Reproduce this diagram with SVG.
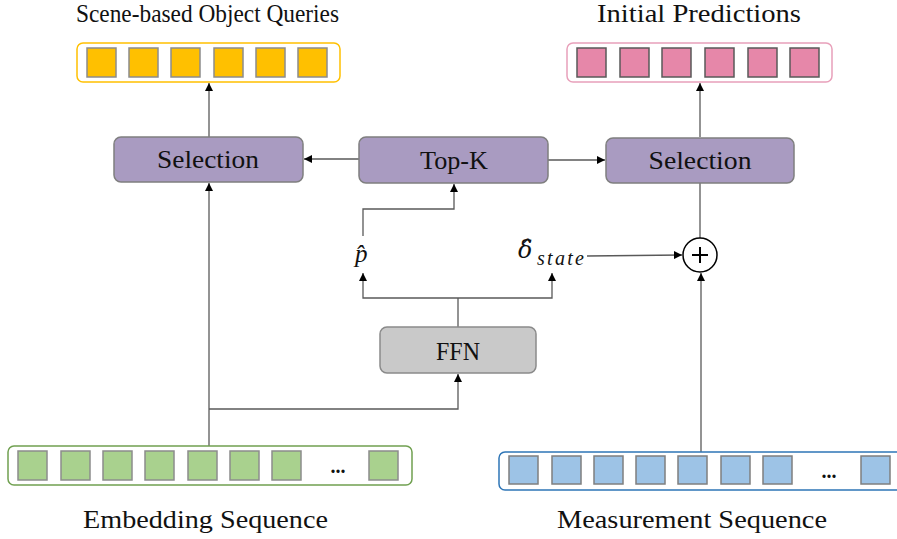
<svg xmlns="http://www.w3.org/2000/svg" width="897" height="539" viewBox="0 0 897 539">
  <defs>
    <marker id="arr" viewBox="0 0 10 10" refX="10" refY="5" markerWidth="8" markerHeight="8" markerUnits="userSpaceOnUse" orient="auto">
      <path d="M0,0 L10,5 L0,10 Z" fill="#000"/>
    </marker>
  </defs>
  <style>
    text { font-family: "Liberation Serif", "DejaVu Serif", serif; fill: #111; }
    .title { font-size: 25px; }
    .lbl { font-size: 26px; text-anchor: middle; }
    .math { font-style: italic; }
    .box { fill: #A99BC1; stroke: #7F7F7F; stroke-width: 1.5; }
    .ffn { fill: #C9C9C9; stroke: #8A8A8A; stroke-width: 1.5; }
    .conn { fill: none; stroke: #595959; stroke-width: 1.3; }
    .ya { fill: #FFC000; stroke: #8C8C8C; stroke-width: 1.5; }
    .pk { fill: #E687A9; stroke: #595959; stroke-width: 1.5; }
    .gr { fill: #A9D18E; stroke: #8C8C8C; stroke-width: 1.5; }
    .bl { fill: #9DC3E6; stroke: #7F7F7F; stroke-width: 1.5; }
  </style>

  <!-- connectors -->
  <g id="connectors">
    <line class="conn" x1="209" y1="137" x2="209" y2="83" marker-end="url(#arr)"/>
    <line class="conn" x1="700" y1="137" x2="700" y2="83" marker-end="url(#arr)"/>
    <line class="conn" x1="359" y1="159" x2="304" y2="159" marker-end="url(#arr)"/>
    <line class="conn" x1="548" y1="160" x2="605" y2="160" marker-end="url(#arr)"/>
    <line class="conn" x1="209" y1="446" x2="209" y2="183" marker-end="url(#arr)"/>
    <polyline class="conn" points="209,409 458,409 458,374" marker-end="url(#arr)"/>
    <line class="conn" x1="458" y1="327" x2="458" y2="298"/>
    <polyline class="conn" points="458,298 363,298 363,273" marker-end="url(#arr)"/>
    <polyline class="conn" points="458,298 552,298 552,273" marker-end="url(#arr)"/>
    <polyline class="conn" points="363,236 363,209 454,209 454,184" marker-end="url(#arr)"/>
    <line class="conn" x1="587" y1="256" x2="682" y2="255" marker-end="url(#arr)"/>
    <line class="conn" x1="700" y1="238" x2="700" y2="183"/>
    <line class="conn" x1="701" y1="452" x2="701" y2="273" marker-end="url(#arr)"/>
  </g>

  <!-- titles -->
  <text class="title" x="76" y="22" textLength="263" lengthAdjust="spacingAndGlyphs">Scene-based Object Queries</text>
  <text class="title" x="597" y="22" textLength="204" lengthAdjust="spacingAndGlyphs">Initial Predictions</text>
  <text class="title" x="83" y="528" textLength="245" lengthAdjust="spacingAndGlyphs">Embedding Sequence</text>
  <text class="title" x="557" y="528" textLength="270" lengthAdjust="spacingAndGlyphs">Measurement Sequence</text>

  <!-- scene-based object queries -->
  <g id="queries">
    <rect x="77" y="43" width="263" height="39" rx="6" fill="#fff" stroke="#FFC000" stroke-width="1.5"/>
    <rect class="ya" x="87" y="48" width="29" height="29"/>
    <rect class="ya" x="129" y="48" width="29" height="29"/>
    <rect class="ya" x="171" y="48" width="29" height="29"/>
    <rect class="ya" x="214" y="48" width="29" height="29"/>
    <rect class="ya" x="256" y="48" width="29" height="29"/>
    <rect class="ya" x="298" y="48" width="29" height="29"/>
  </g>

  <!-- initial predictions -->
  <g id="predictions">
    <rect x="567" y="43" width="265" height="39" rx="6" fill="#fff" stroke="#E8A0BA" stroke-width="1.5"/>
    <rect class="pk" x="577" y="48" width="29" height="29"/>
    <rect class="pk" x="620" y="48" width="29" height="29"/>
    <rect class="pk" x="662" y="48" width="29" height="29"/>
    <rect class="pk" x="705" y="48" width="29" height="29"/>
    <rect class="pk" x="748" y="48" width="29" height="29"/>
    <rect class="pk" x="790" y="48" width="29" height="29"/>
  </g>

  <g id="selection-left">
    <rect class="box" x="114" y="137" width="189" height="45" rx="7"/>
    <text class="lbl" x="208" y="168" textLength="102" lengthAdjust="spacingAndGlyphs">Selection</text>
  </g>

  <g id="topk">
    <rect class="box" x="359" y="137" width="189" height="46" rx="7"/>
    <text class="lbl" x="454" y="169" textLength="68" lengthAdjust="spacingAndGlyphs">Top-K</text>
  </g>

  <g id="selection-right">
    <rect class="box" x="606" y="138" width="188" height="45" rx="7"/>
    <text class="lbl" x="700" y="169" textLength="103" lengthAdjust="spacingAndGlyphs">Selection</text>
  </g>

  <g id="ffn">
    <rect class="ffn" x="380" y="327" width="156" height="46" rx="7"/>
    <text class="lbl" x="458" y="360" textLength="44" lengthAdjust="spacingAndGlyphs">FFN</text>
  </g>

  <g id="p-hat">
    <text class="math" x="355" y="262" font-size="25">p̂</text>
  </g>

  <g id="delta-state">
    <text class="math" x="518" y="258" font-size="24" style="font-family:'DejaVu Serif', serif">δ̂</text>
    <text class="math" x="537" y="265" font-size="20" textLength="47">state</text>
  </g>

  <g id="sum">
    <circle cx="700" cy="255" r="17" fill="#fff" stroke="#000" stroke-width="1.5"/>
    <path d="M700,247 V263 M692,255 H708" stroke="#000" stroke-width="2"/>
  </g>

  <!-- embedding sequence -->
  <g id="embedding">
    <rect x="8" y="446" width="404" height="39" rx="6" fill="#fff" stroke="#70A050" stroke-width="1.5"/>
    <rect class="gr" x="18" y="451" width="29" height="29"/>
    <rect class="gr" x="61" y="451" width="29" height="29"/>
    <rect class="gr" x="103" y="451" width="29" height="29"/>
    <rect class="gr" x="145" y="451" width="29" height="29"/>
    <rect class="gr" x="188" y="451" width="29" height="29"/>
    <rect class="gr" x="230" y="451" width="29" height="29"/>
    <rect class="gr" x="272" y="451" width="29" height="29"/>
    <text x="338" y="473" font-size="20" text-anchor="middle" font-weight="bold">...</text>
    <rect class="gr" x="369" y="451" width="29" height="29"/>
  </g>

  <!-- measurement sequence -->
  <g id="measurement">
    <rect x="499" y="452" width="410" height="38" rx="6" fill="#fff" stroke="#2E75B6" stroke-width="1.5"/>
    <rect class="bl" x="509" y="456" width="29" height="28"/>
    <rect class="bl" x="552" y="456" width="29" height="28"/>
    <rect class="bl" x="594" y="456" width="29" height="28"/>
    <rect class="bl" x="636" y="456" width="29" height="28"/>
    <rect class="bl" x="678" y="456" width="29" height="28"/>
    <rect class="bl" x="721" y="456" width="29" height="28"/>
    <rect class="bl" x="763" y="456" width="29" height="28"/>
    <text x="829" y="478" font-size="20" text-anchor="middle" font-weight="bold">...</text>
    <rect class="bl" x="861" y="456" width="29" height="28"/>
  </g>
</svg>
